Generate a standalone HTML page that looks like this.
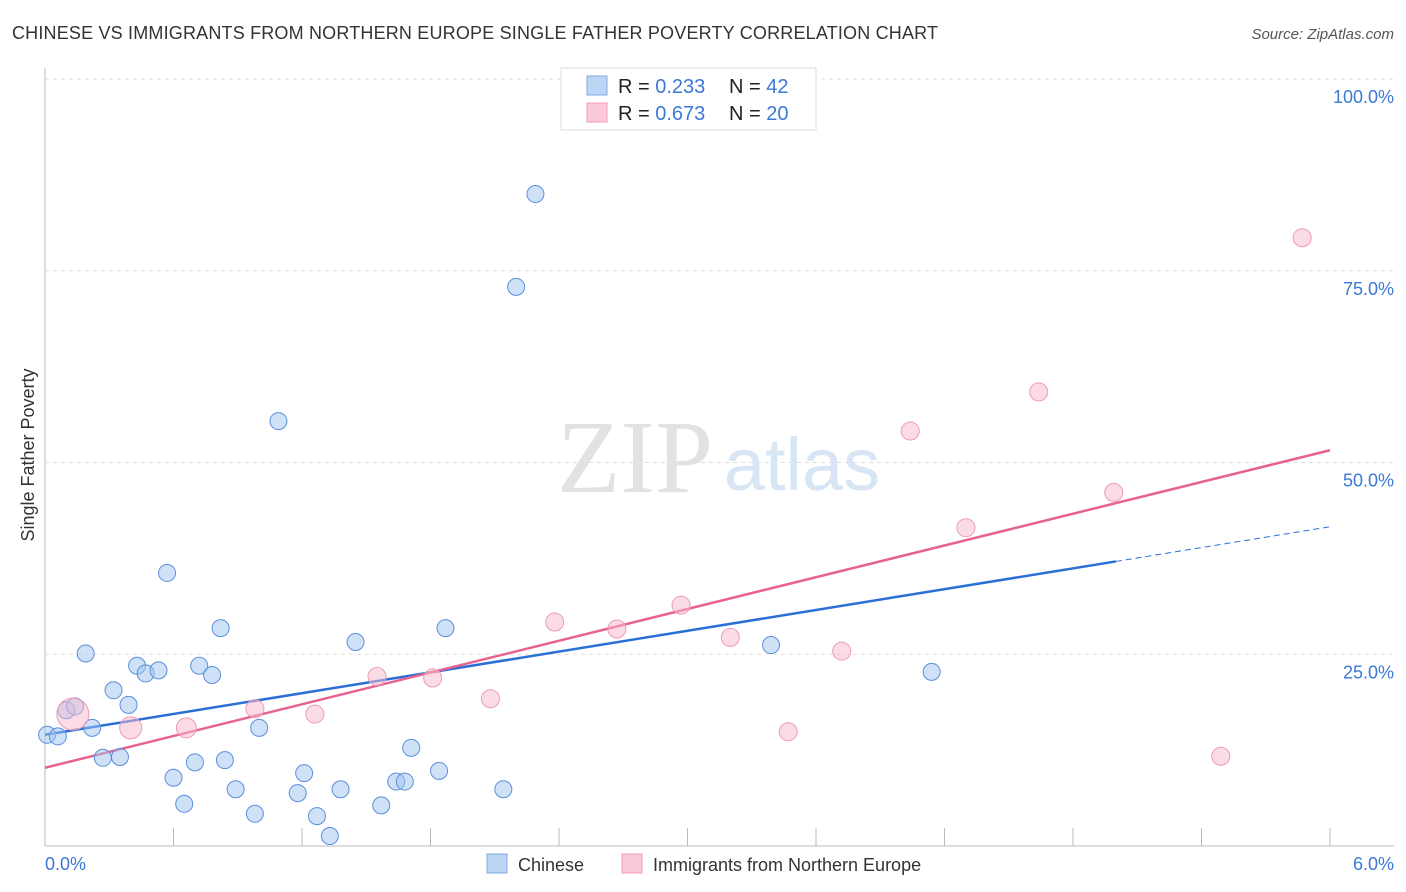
<!DOCTYPE html>
<html><head><meta charset="utf-8"><style>
body{margin:0;background:#fff;font-family:"Liberation Sans",sans-serif;}
svg{display:block}
</style></head><body>
<svg id="chart" width="1406" height="892" xmlns="http://www.w3.org/2000/svg">
<text x="12" y="39" font-size="18" fill="#333" textLength="926">CHINESE VS IMMIGRANTS FROM NORTHERN EUROPE SINGLE FATHER POVERTY CORRELATION CHART</text>
<text x="1394" y="39" font-size="15" fill="#555" font-style="italic" text-anchor="end">Source: ZipAtlas.com</text>
<g id="grid"></g>
<text x="635" y="492" font-size="104" fill="#e2e2e2" font-family="Liberation Serif,serif" text-anchor="middle">ZIP</text>
<text x="802" y="490" font-size="74" fill="#d8e5f5" text-anchor="middle">atlas</text>
<g id="lines"></g>
<g id="pts"></g>
<text transform="translate(34,455) rotate(-90)" font-size="18" fill="#333" text-anchor="middle">Single Father Poverty</text>
<text x="45" y="870" font-size="18" fill="#3b78d8">0.0%</text>
<text x="1394" y="870" font-size="18" fill="#3b78d8" text-anchor="end">6.0%</text>
<g>
<rect x="561" y="68" width="255" height="62" fill="#fff" stroke="#ddd"/>
<rect x="587" y="76" width="20" height="19" fill="#bcd5f5" stroke="#7fa8e3"/>
<rect x="587" y="103" width="20" height="19" fill="#fbcad8" stroke="#ef9db6"/>
<text x="618" y="93" font-size="20" fill="#222">R = <tspan fill="#3b78d8">0.233</tspan><tspan x="729">N = </tspan><tspan fill="#3b78d8">42</tspan></text>
<text x="618" y="120" font-size="20" fill="#222">R = <tspan fill="#3b78d8">0.673</tspan><tspan x="729">N = </tspan><tspan fill="#3b78d8">20</tspan></text>
</g>
<g>
<rect x="487" y="854" width="20" height="19" fill="#bcd5f5" stroke="#7fa8e3"/>
<text x="518" y="871" font-size="18" fill="#333">Chinese</text>
<rect x="622" y="854" width="20" height="19" fill="#fbcad8" stroke="#ef9db6"/>
<text x="653" y="871" font-size="18" fill="#333">Immigrants from Northern Europe</text>
</g>
</svg>
<script>
const blueX=[0.01,0.06,0.10,0.14,0.19,0.22,0.27,0.32,0.35,0.39,0.43,0.47,0.53,0.57,0.60,0.65,0.70,0.72,0.78,0.82,0.84,0.89,0.98,1.00,1.09,1.18,1.21,1.27,1.33,1.38,1.45,1.57,1.64,1.68,1.71,1.84,1.87,2.14,2.20,2.29,3.39,4.14];
const blueY=[14.5,14.3,17.7,18.2,25.1,15.4,11.5,20.3,11.6,18.4,23.5,22.5,22.9,35.6,8.9,5.5,10.9,23.5,22.3,28.4,11.2,7.4,4.2,15.4,55.4,6.9,9.5,3.9,1.3,7.4,26.6,5.3,8.4,8.4,12.8,9.8,28.4,7.4,72.9,85.0,26.2,22.7];
const pinkX=[0.13,0.40,0.66,0.98,1.26,1.55,1.81,2.08,2.38,2.67,2.97,3.20,3.47,3.72,4.04,4.30,4.64,4.99,5.49,5.87];
const pinkY=[17.2,15.4,15.4,17.9,17.2,22.1,21.9,19.2,29.2,28.3,31.4,27.2,14.9,25.4,54.1,41.5,59.2,46.1,11.7,79.3];
const pinkR=[16,11,10,9,9,9,9,9,9,9,9,9,9,9,9,9,9,9,9,9];
const yTicks=[25,50,75,100];
const yTickLabels=["25.0%","50.0%","75.0%","100.0%"];
const xTicks=[0,0.6,1.2,1.8,2.4,3.0,3.6,4.2,4.8,5.4,6.0];
const blueFit=[14.5,4.52];
const pinkFit=[10.2,6.9];
const ns="http://www.w3.org/2000/svg";
const X=v=>45+v/6*1285, Y=v=>846-v*7.67;
function mk(t,a,p){const e=document.createElementNS(ns,t);for(const k in a)e.setAttribute(k,a[k]);p.appendChild(e);return e;}
const grid=document.getElementById('grid');
const ax=mk('line',{x1:45,y1:68,x2:45,y2:846,stroke:'#bbb'},grid);


const bx=mk('line',{x1:45,y1:846,x2:1394,y2:846,stroke:'#bbb'},grid);


yTicks.forEach((t,i)=>{
 const g=mk('line',{x1:45,x2:1394,y1:Y(t),y2:Y(t),stroke:'#ddd','stroke-dasharray':'4,4'},grid);
 
 
 const l=mk('text',{x:1394,y:Y(t)+24,'font-size':18,fill:'#3b78d8','text-anchor':'end'},grid);
 l.textContent=yTickLabels[i];
 
 
});
xTicks.forEach(t=>{
 const k=mk('line',{x1:X(t),x2:X(t),y1:828,y2:846,stroke:'#bbb'},grid);
 
 
});
const pts=document.getElementById('pts');
blueX.forEach((x,i)=>{
 const c=mk('circle',{cx:X(x),cy:Y(blueY[i]),r:8.5,fill:'rgba(160,195,240,0.5)',stroke:'#5b8fdd','stroke-width':1},pts);
 
 
});
pinkX.forEach((x,i)=>{
 const c=mk('circle',{cx:X(x),cy:Y(pinkY[i]),r:pinkR[i],fill:'rgba(248,185,205,0.5)',stroke:'#ee9ab5','stroke-width':1},pts);
 
 
});
const lines=document.getElementById('lines');
const b1=mk('line',{x1:X(0),y1:Y(blueFit[0]),x2:X(5),y2:Y(blueFit[0]+blueFit[1]*5),stroke:'#2a6fd6','stroke-width':2.5},lines);


const b2=mk('line',{x1:X(5),y1:Y(blueFit[0]+blueFit[1]*5),x2:X(6),y2:Y(blueFit[0]+blueFit[1]*6),stroke:'#2a6fd6','stroke-width':1,'stroke-dasharray':'6,4'},lines);


const p1=mk('line',{x1:X(0),y1:Y(pinkFit[0]),x2:X(6),y2:Y(pinkFit[0]+pinkFit[1]*6),stroke:'#e8628f','stroke-width':2.5},lines);


</script>
</body></html>
